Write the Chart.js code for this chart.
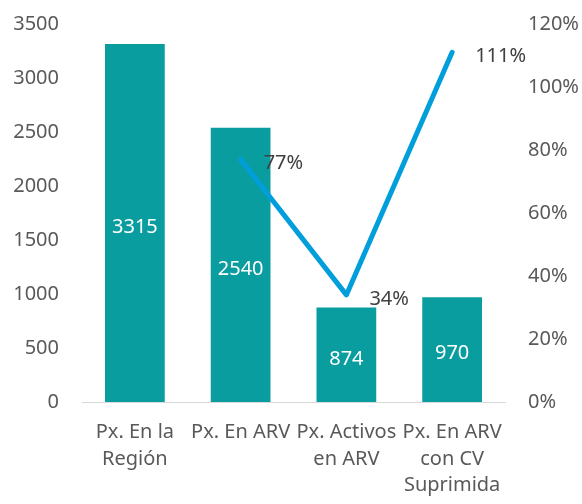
<!DOCTYPE html>
<html>
<head>
<meta charset="utf-8">
<script src="https://cdn.jsdelivr.net/npm/chart.js@4/dist/chart.umd.min.js"></script>
<style>
  html, body { margin: 0; padding: 0; background: #fff; overflow: hidden; }
  #wrap { width: 582px; height: 515px; margin-top: -11px; }
</style>
</head>
<body>
<div id="wrap"><canvas id="chart"></canvas></div>
<script>
// datos del gráfico
const categories = [
  ['Px. En la', 'Región'],
  ['Px. En ARV'],
  ['Px. Activos', 'en ARV'],
  ['Px. En ARV', 'con CV', 'Suprimida']
];
const patients = [3315, 2540, 874, 970];
const percents = [null, 77, 34, 111];

const FONT = '"Noto Sans", "Open Sans", sans-serif';

// etiquetas de valores dibujadas a mano
const valueLabels = {
  id: 'valueLabels',
  afterDatasetsDraw(chart) {
    const ctx = chart.ctx;
    ctx.save();
    ctx.font = '20px ' + FONT;
    ctx.textBaseline = 'middle';

    const bars = chart.getDatasetMeta(0).data;
    ctx.fillStyle = '#ffffff';
    ctx.textAlign = 'center';
    bars.forEach(function(bar, i) {
      const mid = (bar.y + bar.base) / 2;
      ctx.fillText(String(patients[i]), bar.x, mid + 4);
    });

    const pts = chart.getDatasetMeta(1).data;
    ctx.fillStyle = '#404040';
    ctx.textAlign = 'left';
    pts.forEach(function(p, i) {
      if (percents[i] === null) return;
      ctx.fillText(percents[i] + '%', p.x + 23, p.y + 4);
    });
    ctx.restore();
  }
};

const ctx = document.getElementById('chart').getContext('2d');
const chart = new Chart(ctx, {
  data: {
    labels: categories,
    datasets: [{
      type: 'bar',
      label: 'Pacientes',
      data: patients,
      backgroundColor: '#0A9DA0',
      categoryPercentage: 1,
      barPercentage: 0.565,
      yAxisID: 'y',
      order: 2
    }, {
      type: 'line',
      label: '%',
      data: percents,
      borderColor: '#009FDB',
      borderWidth: 5,
      pointRadius: 0,
      borderCapStyle: 'round',
      borderJoinStyle: 'round',
      tension: 0,
      yAxisID: 'y1',
      order: 1
    }]
  },
  options: {
    responsive: true,
    maintainAspectRatio: false,
    animation: false,
    layout: { padding: { top: 0, bottom: 7 } },
    plugins: {
      legend: { display: false },
      tooltip: { enabled: false }
    },
    scales: {
      x: {
        grid: { display: false, drawTicks: false },
        border: { display: true, color: '#D9D9D9', width: 1 },
        ticks: {
          color: '#595959',
          font: { family: FONT, size: 20, lineHeight: 1.33 },
          padding: 17,
          maxRotation: 0,
          autoSkip: false
        },
        afterFit(scale) { scale.height = 95; }
      },
      y: {
        position: 'left',
        min: 0,
        max: 3500,
        ticks: {
          stepSize: 500,
          color: '#595959',
          font: { family: FONT, size: 20 },
          padding: 23,
          callback: v => String(v)
        },
        grid: { display: false, drawTicks: false },
        border: { display: false },
        afterFit(scale) { scale.width = 82; }
      },
      y1: {
        position: 'right',
        min: 0,
        max: 120,
        ticks: {
          stepSize: 20,
          color: '#595959',
          font: { family: FONT, size: 20 },
          padding: 23,
          callback: v => v + '%'
        },
        grid: { display: false, drawTicks: false },
        border: { display: false },
        afterFit(scale) { scale.width = 77; }
      }
    }
  },
  plugins: [valueLabels]
});
</script>
</body>
</html>
